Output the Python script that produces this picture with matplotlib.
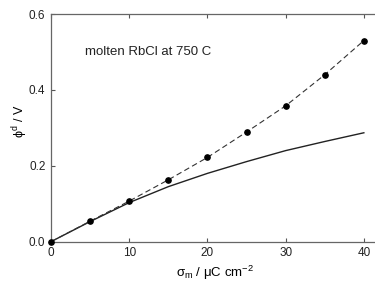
import matplotlib
matplotlib.use('Agg')
import matplotlib.pyplot as plt

plt.rcParams['font.family'] = ['Liberation Sans', 'DejaVu Sans']
plt.rcParams['mathtext.fontset'] = 'custom'
plt.rcParams['mathtext.rm'] = 'Liberation Sans'
plt.rcParams['mathtext.it'] = 'Liberation Sans'

sigma = [0, 5, 10, 15, 20, 25, 30, 35, 40]
phi_sim = [0.0, 0.054, 0.107, 0.163, 0.222, 0.289, 0.358, 0.440, 0.530]
phi_theory = [0.0, 0.053, 0.103, 0.145, 0.180, 0.211, 0.240, 0.264, 0.287]

fig = plt.figure(figsize=(3.75, 2.86), dpi=100)
ax = fig.add_axes([0.136, 0.155, 0.876, 0.796])

ax.plot(sigma, phi_theory, linestyle='-', color='#222222', linewidth=1.0)
ax.plot(sigma, phi_sim, linestyle=(0, (5, 3)), color='#333333', linewidth=0.8,
        marker='o', markersize=3.8, markerfacecolor='black', markeredgecolor='black',
        clip_on=False, zorder=5)

ax.set_xlim(0, 42)
ax.set_ylim(0, 0.6)
ax.set_xticks([0, 10, 20, 30, 40])
ax.set_yticks([0.0, 0.2, 0.4, 0.6])
ax.set_yticklabels(['0.0', '0.2', '0.4', '0.6'])
ax.tick_params(direction='in', length=3, width=0.8, labelsize=8.5, colors='#555555',
               labelcolor='#222222', top=True, right=False, pad=4)
for s in ax.spines.values():
    s.set_color('#666666')
    s.set_linewidth(0.9)
ax.spines['right'].set_visible(False)

ax.set_xlabel(r'$\sigma_{\rm m}$ / $\mu$C cm$^{-2}$', fontsize=9.5, labelpad=3)
ax.set_ylabel(r'$\phi^{\rm d}$ / V', fontsize=9)
ax.yaxis.set_label_coords(-0.065, 0.53)
ax.text(4.35, 0.5, 'molten RbCl at 750 C', fontsize=9.5, color='#222222', va='center')

fig.savefig('out.png', dpi=100)
